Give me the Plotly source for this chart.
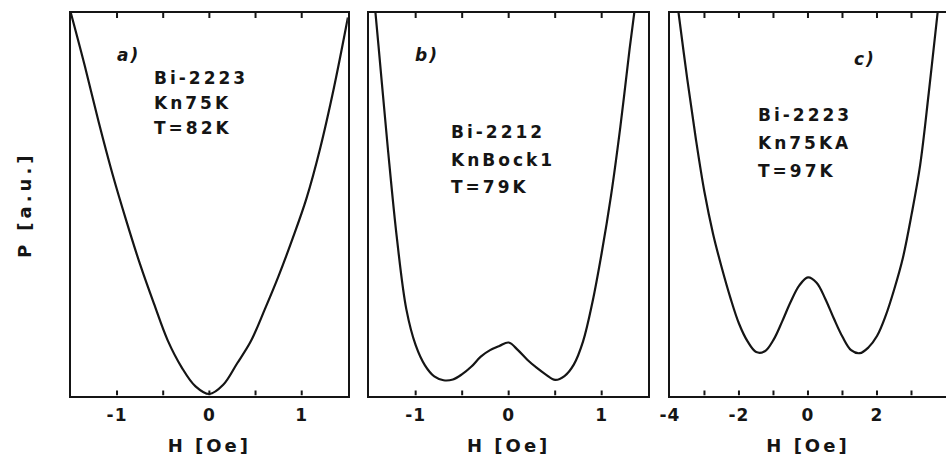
import plotly.graph_objects as go

# ---------------- data ----------------
# panel a) Bi-2223 Kn75K T=82K
h_a = [-1.50, -1.35, -1.20, -1.05, -0.90, -0.75, -0.60, -0.45, -0.30, -0.15, 0.00,
       0.15, 0.30, 0.45, 0.60, 0.75, 0.90, 1.05, 1.20, 1.35, 1.50]
p_a = [1.000, 0.862, 0.715, 0.578, 0.455, 0.340, 0.237, 0.140, 0.070, 0.020, 0.000,
       0.024, 0.080, 0.139, 0.222, 0.310, 0.407, 0.512, 0.645, 0.805, 0.988]

# panel b) Bi-2212 KnBock1 T=79K
h_b = [-1.50, -1.40, -1.30, -1.20, -1.10, -1.00, -0.90, -0.80, -0.70, -0.60,
       -0.50, -0.40, -0.30, -0.20, -0.10, 0.00, 0.10, 0.20, 0.30, 0.40, 0.50,
       0.60, 0.70, 0.80, 0.90, 1.00, 1.10, 1.20, 1.30, 1.35, 1.40]
p_b = [1.180, 0.915, 0.647, 0.405, 0.222, 0.128, 0.075, 0.046, 0.036, 0.038,
       0.052, 0.072, 0.098, 0.115, 0.126, 0.135, 0.115, 0.090, 0.069, 0.051, 0.037,
       0.047, 0.077, 0.138, 0.240, 0.370, 0.520, 0.700, 0.905, 1.000, 1.100]

# panel c) Bi-2223 Kn75KA T=97K
h_c = [-3.90, -3.75, -3.50, -3.25, -3.00, -2.75, -2.50, -2.25, -2.00, -1.75,
       -1.50, -1.25, -1.00, -0.75, -0.50, -0.25, 0.00, 0.25, 0.50, 0.75, 1.00,
       1.25, 1.50, 1.75, 2.00, 2.25, 2.50, 2.75, 3.00, 3.25, 3.50, 3.75, 3.90]
p_c = [1.105, 1.000, 0.828, 0.670, 0.530, 0.420, 0.332, 0.253, 0.185, 0.138,
       0.110, 0.112, 0.142, 0.190, 0.242, 0.285, 0.306, 0.292, 0.250, 0.198, 0.150,
       0.115, 0.107, 0.122, 0.152, 0.205, 0.275, 0.357, 0.470, 0.600, 0.790, 0.995, 1.110]

labels_a = ["Bi-2223", "Kn75K", "T=82K"]
labels_b = ["Bi-2212", "KnBock1", "T=79K"]
labels_c = ["Bi-2223", "Kn75KA", "T=97K"]
panel_tags = ["a)", "b)", "c)"]

labelled_ab = [-1, 0, 1]
marks_ab = [-1.0, -0.5, 0.0, 0.5, 1.0]          # tick marks (inside)
labelled_c = [-4, -2, 0, 2, 4]
marks_c = [-3, -2, -1, 0, 1, 2, 3]

x_title = "H [Oe]"
y_title = "P [a.u.]"

# ---------------- layout ----------------
W, H = 946, 460
FONT = "DejaVu Sans"
INK = "#151515"
TL = 5  # tick length, px
y_range = [-0.004, 1.0]
top_px, bottom_px = 13, 395.5


def sp(t, ls=2):
    return f'<span style="letter-spacing:{ls}px">{t}</span>' if t else ""


def px_dom(a, b):
    return [a / W, b / W]


y_dom = [(H - bottom_px) / H, (H - top_px) / H]
# tick length expressed in the y scale of a panel
dy = TL / (bottom_px - top_px) * (y_range[1] - y_range[0])

fig = go.Figure()
curves = [(h_a, p_a, "x", "y"), (h_b, p_b, "x2", "y2"), (h_c, p_c, "x3", "y3")]
for hx, py, xa, ya in curves:
    fig.add_trace(go.Scatter(x=hx, y=py, xaxis=xa, yaxis=ya, mode="lines",
                             line=dict(color=INK, width=2.2, shape="spline", smoothing=1.0),
                             showlegend=False, hoverinfo="skip"))

# inside tick marks on bottom and top frame, drawn through each panel's scales
for xa, ya, marks in [("x", "y", marks_ab), ("x2", "y2", marks_ab), ("x3", "y3", marks_c)]:
    tx, ty = [], []
    for v in marks:
        tx += [v, v, None, v, v, None]
        ty += [y_range[0], y_range[0] + dy, None, y_range[1], y_range[1] - dy, None]
    fig.add_trace(go.Scatter(x=tx, y=ty, xaxis=xa, yaxis=ya, mode="lines",
                             line=dict(color=INK, width=2), connectgaps=False,
                             showlegend=False, hoverinfo="skip"))

common_x = dict(showline=True, linecolor=INK, linewidth=2, mirror=True, ticks="",
                showgrid=False, zeroline=False,
                tickfont=dict(family=FONT, size=17, color=INK, weight="bold"),
                ticklabelstandoff=3,
                title=dict(text=sp(x_title, 3), standoff=15,
                           font=dict(family=FONT, size=18, color=INK, weight="bold")))
common_y = dict(showline=True, linecolor=INK, linewidth=2, mirror=True,
                ticks="", showticklabels=False, showgrid=False, zeroline=False,
                range=y_range, fixedrange=True)

fig.update_layout(
    width=W, height=H, margin=dict(l=0, r=0, t=0, b=0),
    paper_bgcolor="white", plot_bgcolor="white", showlegend=False,
    xaxis=dict(domain=px_dom(61.5, 341.5), range=[-1.5, 1.5],
               tickmode="array", tickvals=labelled_ab, ticktext=[sp(str(v), 1) for v in labelled_ab],
               anchor="y", **common_x),
    xaxis2=dict(domain=px_dom(363, 645), range=[-1.5, 1.5],
                tickmode="array", tickvals=labelled_ab, ticktext=[sp(str(v), 1) for v in labelled_ab],
                anchor="y2", **common_x),
    xaxis3=dict(domain=px_dom(667, 946), range=[-4, 4.0],
                tickmode="array", tickvals=labelled_c, ticktext=[sp(str(v), 1) for v in labelled_c],
                anchor="y3", **common_x),
    yaxis=dict(domain=y_dom, anchor="x", **common_y),
    yaxis2=dict(domain=y_dom, anchor="x2", **common_y),
    yaxis3=dict(domain=y_dom, anchor="x3", **{**common_y, "mirror": False}),
)

txt_font = dict(family=FONT, size=17, color=INK, weight="bold")
tag_font = dict(family=FONT, size=17, color=INK, weight="bold", style="italic")

tag_pos = [("x", "y", -0.88, 0.89), ("x2", "y2", -0.88, 0.89), ("x3", "y3", 1.66, 0.88)]
for tag, (xr, yr, hx, py) in zip(panel_tags, tag_pos):
    fig.add_annotation(text=sp(tag, 2), xref=xr, yref=yr, x=hx, y=py, showarrow=False,
                       xanchor="center", yanchor="middle", font=tag_font)

block_pos = [("x", "y", -0.62, [0.83, 0.765, 0.697], labels_a),
             ("x2", "y2", -0.64, [0.688, 0.615, 0.543], labels_b),
             ("x3", "y3", -1.50, [0.733, 0.66, 0.584], labels_c)]
for xr, yr, hx, ys, labs in block_pos:
    for lab, yy in zip(labs, ys):
        fig.add_annotation(text=sp(lab, 3), xref=xr, yref=yr, x=hx, y=yy, showarrow=False,
                           xanchor="left", yanchor="middle", font=txt_font)

# y-axis title (shared, left of panel a)
fig.add_annotation(text=sp(y_title, 4), xref="paper", yref="paper", x=14 / W,
                   y=(y_dom[0] + y_dom[1]) / 2, textangle=-90, showarrow=False,
                   xanchor="center", yanchor="middle",
                   font=dict(family=FONT, size=18, color=INK, weight="bold"))

fig.write_html("out.html")
